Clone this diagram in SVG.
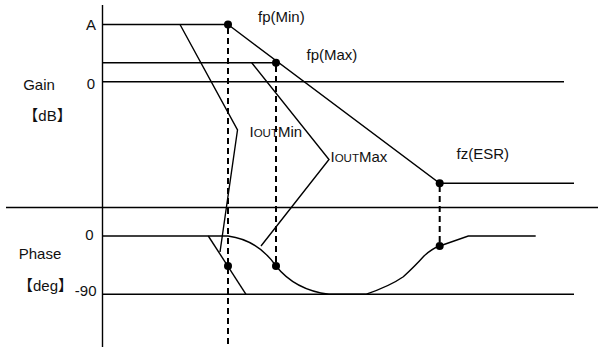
<svg xmlns="http://www.w3.org/2000/svg" width="598" height="347" viewBox="0 0 598 347">
<style>
  .ln { stroke: #000; stroke-width: 1.4; fill: none; }
  .dash { stroke: #000; stroke-width: 2; stroke-dasharray: 6 4; fill: none; }
  .dot { fill: #000; }
  text { font-family: "Liberation Sans", "Noto Sans CJK JP", sans-serif; font-size: 15px; fill: #111; }
  .sm { font-size: 11.5px; }
</style>
<rect width="598" height="347" fill="#fff"/>
<g id="labels">
  <text x="91" y="30" text-anchor="middle">A</text>
  <text x="91" y="89" text-anchor="middle">0</text>
  <text x="39" y="90" text-anchor="middle">Gain</text>
  <text x="47.5" y="121" text-anchor="middle">【dB】</text>
  <text x="89.5" y="239.5" text-anchor="middle">0</text>
  <text x="40" y="258.5" text-anchor="middle">Phase</text>
  <text x="45.5" y="291" text-anchor="middle">【deg】</text>
  <text x="96.5" y="295.5" text-anchor="end">-90</text>
  <text x="258" y="22">fp(Min)</text>
  <text x="306.5" y="60">fp(Max)</text>
  <text x="456.5" y="158.5">fz(ESR)</text>
  <text x="249.5" y="137">I<tspan class="sm">OUT</tspan>Min</text>
  <text x="330.5" y="162">I<tspan class="sm">OUT</tspan>Max</text>
</g>
<g id="axes">
  <line class="ln" x1="102.5" y1="5" x2="102.5" y2="347"/>
  <line class="ln" x1="6" y1="207.5" x2="598" y2="207.5"/>
  <line class="ln" x1="102" y1="24.5" x2="228" y2="24.5"/>
  <line class="ln" x1="102" y1="62.7" x2="276" y2="62.7"/>
  <line class="ln" x1="102" y1="81.7" x2="564" y2="81.7"/>
  <line class="ln" x1="102" y1="236" x2="228" y2="236"/>
  <line class="ln" x1="102" y1="294.3" x2="574" y2="294.3"/>
</g>
<g id="connectors">
  <polyline class="ln" points="228,24.5 439.7,183.3 574,183.3"/>
  <polyline class="ln" points="180,24.5 237.5,130 220,252"/>
  <polyline class="ln" points="251.7,62.7 329,159.5 261,246"/>
  <line class="ln" x1="208.3" y1="236" x2="246" y2="294.3"/>
  <path class="ln" d="M228,236 Q258,240 276,266 Q295,290 329,294.3 L365.7,294.3 Q390,286 403.3,276.7 Q415,266 423.3,256.7 Q431,249 439.7,246 L468.3,236 L535.7,236"/>
  <line class="dash" x1="228" y1="28" x2="228" y2="347"/>
  <line class="dash" x1="276" y1="66" x2="276" y2="266"/>
  <line class="dash" x1="439.7" y1="186" x2="439.7" y2="246"/>
</g>
<g id="points">
  <circle class="dot" cx="228" cy="24.5" r="4"/>
  <circle class="dot" cx="276" cy="62.7" r="4"/>
  <circle class="dot" cx="439.7" cy="183.3" r="4"/>
  <circle class="dot" cx="228" cy="266" r="4"/>
  <circle class="dot" cx="276" cy="266" r="4"/>
  <circle class="dot" cx="439.7" cy="246" r="4"/>
</g>
</svg>
